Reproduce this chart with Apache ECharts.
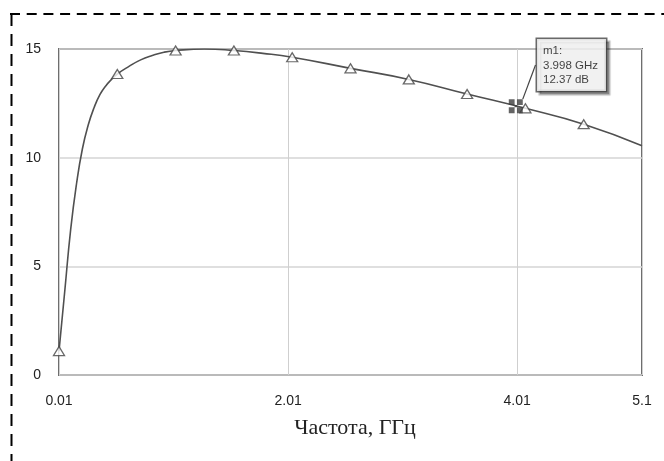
<!DOCTYPE html>
<html>
<head>
<meta charset="utf-8">
<script src="https://cdn.jsdelivr.net/npm/echarts@6/dist/echarts.min.js"></script>
<style>
  html, body { margin: 0; padding: 0; background: #fff; }
  #chart { width: 664px; height: 461px; }
</style>
</head>
<body>
<div id="chart"></div>
<script>
// Gain vs. frequency (GHz, dB)
const freqGHz = [0.01, 0.061, 0.112, 0.163, 0.214, 0.265, 0.316, 0.367, 0.418, 0.469, 0.519,
                 0.621, 0.723, 0.824, 0.926, 1.028, 1.28, 1.537, 1.79, 2.046, 2.555, 3.064,
                 3.573, 4.082, 4.591, 5.1];
const gainDb  = [1.1, 3.9, 6.7, 8.8, 10.4, 11.5, 12.3, 12.9, 13.3, 13.6, 13.85,
                 14.2, 14.5, 14.7, 14.85, 14.93, 15.0, 14.93, 14.8, 14.62, 14.11, 13.6,
                 12.93, 12.27, 11.54, 10.55];

// Triangle markers placed along the trace
const markerFreq = [0.01, 0.519, 1.028, 1.537, 2.046, 2.555, 3.064, 3.573, 4.082, 4.591];
const markerGain = [1.1, 13.85, 14.93, 14.93, 14.62, 14.11, 13.6, 12.93, 12.27, 11.54];

// Marker readout m1
const m1Freq = 3.998;
const m1Gain = 12.37;

// Axis tick values
const xTicks = [0.01, 2.01, 4.01, 5.1];
const yTicks = [0, 5, 10, 15];

const chart = echarts.init(document.getElementById('chart'), null, { renderer: 'canvas' });

const curve = freqGHz.map((f, i) => [f, gainDb[i]]);
const markers = markerFreq.map((f, i) => [f, markerGain[i]]);

const sansFont = '"Liberation Sans", Arial, sans-serif';

chart.setOption({
  animation: false,
  backgroundColor: '#ffffff',
  grid: {
    left: 59, right: 22, top: 49, bottom: 86,
    show: true,
    borderColor: '#6e6e6e',
    borderWidth: 2
  },
  xAxis: {
    type: 'value',
    min: xTicks[0],
    max: xTicks[xTicks.length - 1],
    axisLine: { show: false },
    axisTick: { show: false, customValues: xTicks },
    axisLabel: {
      customValues: xTicks,
      color: '#222',
      fontSize: 14,
      fontFamily: sansFont,
      margin: 19,
      formatter: v => String(v)
    },
    splitLine: { show: true, lineStyle: { color: '#cfcfcf', width: 1 } }
  },
  yAxis: {
    type: 'value',
    min: yTicks[0],
    max: yTicks[yTicks.length - 1],
    interval: 5,
    axisLine: { show: false },
    axisTick: { show: false },
    axisLabel: {
      color: '#222',
      fontSize: 14,
      fontFamily: sansFont,
      margin: 18
    },
    splitLine: { show: true, lineStyle: { color: '#d4d4d4', width: 1.5 } }
  },
  series: [
    {
      type: 'line',
      data: curve,
      smooth: 0.5,
      showSymbol: false,
      lineStyle: { color: '#505050', width: 1.6 },
      z: 2
    },
    {
      type: 'scatter',
      data: markers,
      symbol: 'triangle',
      symbolSize: [11, 9],
      itemStyle: { color: '#fff', borderColor: '#444', borderWidth: 1.3 },
      z: 3
    },
    {
      type: 'scatter',
      data: [[m1Freq, m1Gain]],
      symbol: 'path://M0,0H5V5H0Z M7,0H12V5H7Z M0,7H5V12H0Z M7,7H12V12H7Z M5,5H7V7H5Z',
      symbolSize: 14,
      itemStyle: { color: '#3d3d3d' },
      z: 4,
      label: {
        show: true,
        formatter: 'm1:\n' + m1Freq.toFixed(3) + ' GHz\n' + m1Gain.toFixed(2) + ' dB',
        color: '#111',
        fontSize: 11.5,
        fontFamily: sansFont,
        lineHeight: 14.3,
        align: 'left',
        verticalAlign: 'top',
        backgroundColor: '#fff',
        borderColor: '#444',
        borderWidth: 1.5,
        padding: [5, 8, 4, 6],
        shadowColor: 'rgba(0,0,0,0.35)',
        shadowOffsetX: 3,
        shadowOffsetY: 3,
        shadowBlur: 1
      },
      labelLayout: { x: 537, y: 39, align: 'left', verticalAlign: 'top' },
      labelLine: { show: true, lineStyle: { color: '#444', width: 1.2 } }
    }
  ],
  graphic: [
    {
      type: 'text',
      x: 355, y: 428,
      style: {
        text: 'Частота, ГГц',
        font: '22px "Liberation Serif", "Times New Roman", serif',
        fill: '#222',
        align: 'center',
        verticalAlign: 'middle'
      }
    },
    {
      type: 'line',
      shape: { x1: 10, y1: 14, x2: 664, y2: 14 },
      style: { stroke: '#000', lineWidth: 2, lineDash: [10, 6.7] },
      silent: true
    },
    {
      type: 'line',
      shape: { x1: 11.5, y1: 14, x2: 11.5, y2: 461 },
      style: { stroke: '#000', lineWidth: 2, lineDash: [12, 8] },
      silent: true
    }
  ]
});
</script>
</body>
</html>
